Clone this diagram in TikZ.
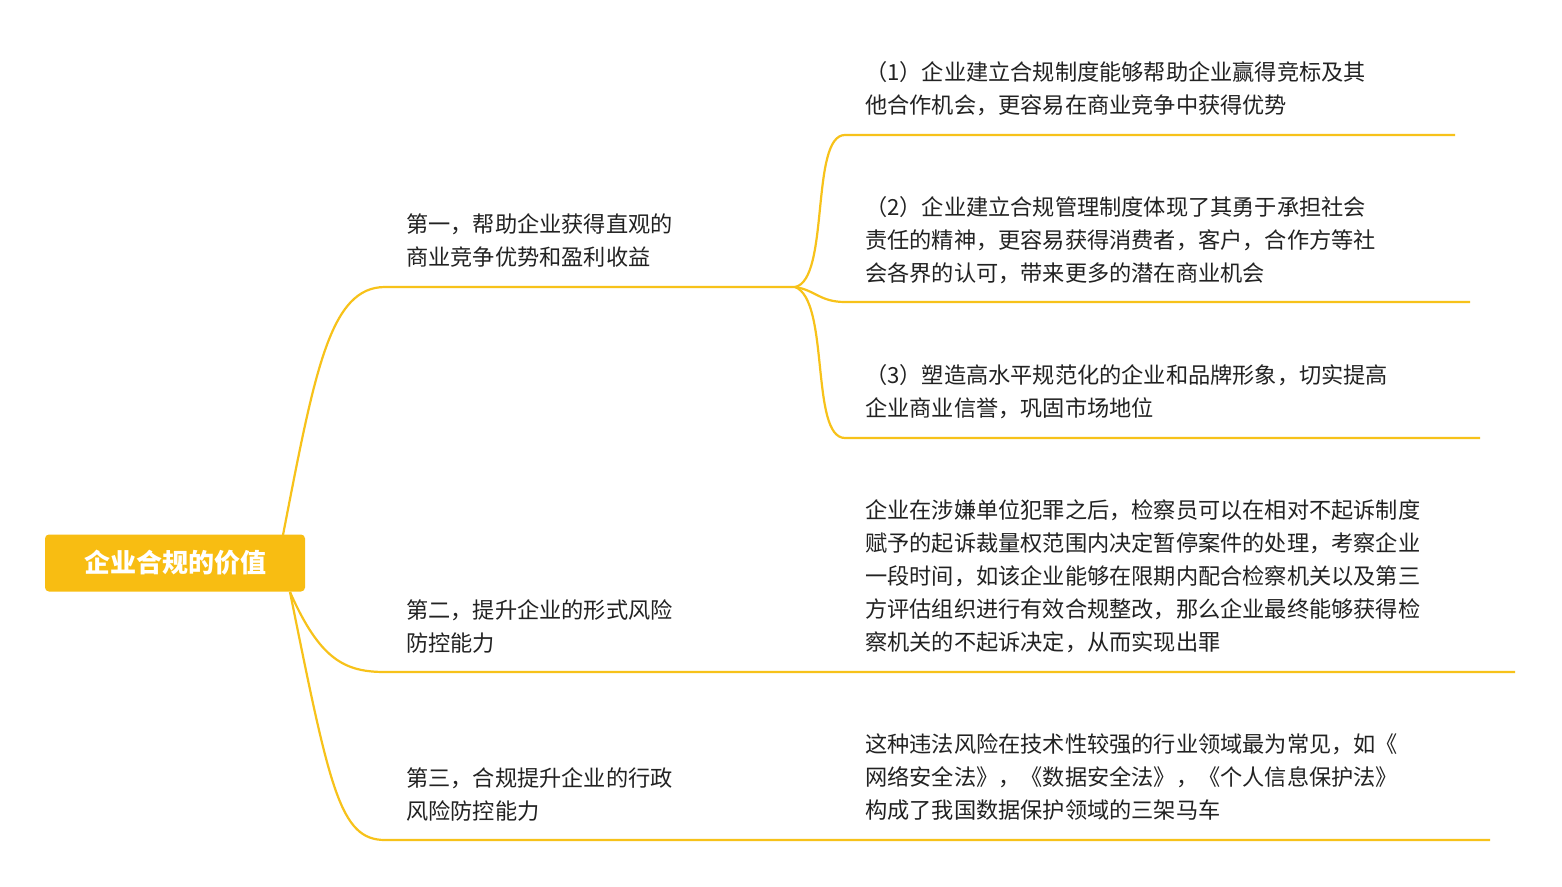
\documentclass[tikz,border=0pt]{standalone}
\usepackage{fontspec}
\setmainfont{Noto Sans CJK SC}
\begin{document}
\begin{tikzpicture}[x=1pt,y=-1pt,
  ln/.style={draw=lineY,line width=2.2pt},
  txt/.style={anchor=north west,inner sep=0pt,align=left,text=textC,font=\fontsize{22.2}{33}\selectfont},
  ]
\definecolor{lineY}{HTML}{F7C21A}
\definecolor{rootY}{HTML}{F8BD12}
\definecolor{textC}{HTML}{222222}
\useasboundingbox[fill=white] (0,0) rectangle (1562,886);
\node[fill=rootY,rounded corners=4pt,minimum width=260pt,minimum height=57pt,text=white,font=\fontsize{26}{30}\selectfont\bfseries] (root) at (175,563) {企业合规的价值};
\coordinate (r1) at (283,535);
\coordinate (r2) at (290,592);
\coordinate (b1) at (385,287);\coordinate (b1e) at (795,287);
\coordinate (b2) at (385,672);\coordinate (b2e) at (1515,672);
\coordinate (b3) at (385,840);\coordinate (b3e) at (1490,840);
\coordinate (l1) at (845,135);\coordinate (l1e) at (1455,135);
\coordinate (l2) at (845,302);\coordinate (l2e) at (1470,302);
\coordinate (l3) at (845,438);\coordinate (l3e) at (1480,438);
\draw[ln] (r1) .. controls (315,370) and (330,287) .. (b1) -- (b1e);
\draw[ln] (r2) .. controls (320,660) and (345,672) .. (b2) -- (b2e);
\draw[ln] (r2) .. controls (330,790) and (340,840) .. (b3) -- (b3e);
\draw[ln] (b1e) .. controls (830,280) and (810,135) .. (l1) -- (l1e);
\draw[ln] (b1e) .. controls (815,290) and (820,302) .. (l2) -- (l2e);
\draw[ln] (b1e) .. controls (830,300) and (810,438) .. (l3) -- (l3e);
\node[txt] (t1) at (406,213) {第一，帮助企业获得直观的\\商业竞争优势和盈利收益};
\node[txt] (t2) at (406,599) {第二，提升企业的形式风险\\防控能力};
\node[txt] (t3) at (406,767) {第三，合规提升企业的行政\\风险防控能力};
\node[txt] (s1) at (865,61) {（1）企业建立合规制度能够帮助企业赢得竞标及其\\他合作机会，更容易在商业竞争中获得优势};
\node[txt] (s2) at (865,196) {（2）企业建立合规管理制度体现了其勇于承担社会\\责任的精神，更容易获得消费者，客户，合作方等社\\会各界的认可，带来更多的潜在商业机会};
\node[txt] (s3) at (865,364) {（3）塑造高水平规范化的企业和品牌形象，切实提高\\企业商业信誉，巩固市场地位};
\node[txt] (s4) at (865,499) {企业在涉嫌单位犯罪之后，检察员可以在相对不起诉制度\\赋予的起诉裁量权范围内决定暂停案件的处理，考察企业\\一段时间，如该企业能够在限期内配合检察机关以及第三\\方评估组织进行有效合规整改，那么企业最终能够获得检\\察机关的不起诉决定，从而实现出罪};
\node[txt] (s5) at (865,733) {这种违法风险在技术性较强的行业领域最为常见，如《\\网络安全法》，《数据安全法》，《个人信息保护法》\\构成了我国数据保护领域的三架马车};
\end{tikzpicture}
\end{document}
